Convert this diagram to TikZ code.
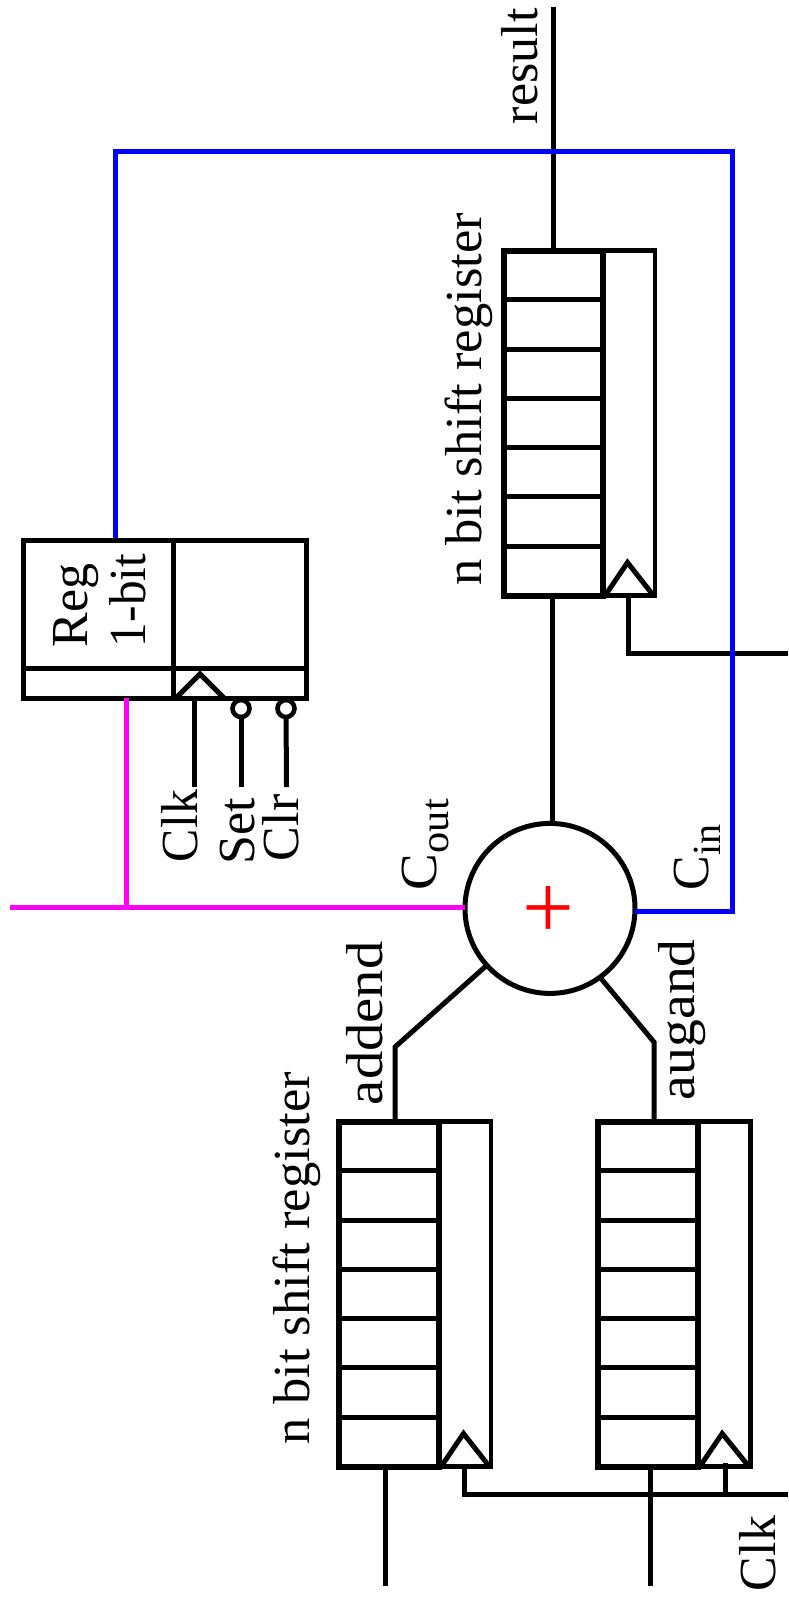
\documentclass[tikz,border=0pt]{standalone}
\usepackage{graphicx}
\usepackage{fontspec}
\setmainfont{Liberation Serif}
\usetikzlibrary{calc}
\definecolor{mag}{RGB}{255,0,255}
\tikzset{
  wire/.style={line width=5pt,draw=black,line join=miter},
  bluewire/.style={line width=5pt,draw=blue,line join=miter},
  magwire/.style={line width=5pt,draw=mag,line join=miter},
  lab/.style={rotate=90,anchor=base west,inner sep=0pt,outer sep=0pt,font=\fontsize{52}{54}\selectfont},
  boxa/.style={draw=black,line width=6pt,inner sep=0pt,outer sep=0pt,anchor=north west},
  boxb/.style={draw=black,line width=4.6pt,inner sep=0pt,outer sep=0pt,anchor=north west},
}
\newcommand{\sublab}[1]{\raisebox{-12pt}{\fontsize{40}{40}\selectfont #1}}
\newcommand{\shiftreg}[5]{% name, xleft, xdiv, xright, ytop (height 345)
  \pgfmathsetmacro{\wa}{#3-#2}\pgfmathsetmacro{\wb}{#4-#3}
  \node[boxb,minimum width=\wb pt,minimum height=345pt] (#1clk) at (#3,#5) {};
  \node[boxa,minimum width=\wa pt,minimum height=345pt] (#1cell) at (#2,#5) {};
  \foreach \i in {1,...,6}{
    \draw[wire] ($(#1cell.north west)!\i/7!(#1cell.south west)$) -- ($(#1cell.north east)!\i/7!(#1cell.south east)$);
  }
  \draw[wire] ($(#1clk.south west)+(2.5,-0.5)$) -- ($(#1clk.south west)+(24.5,-33)$) -- ($(#1clk.south east)+(-2,-0.5)$);
}
\begin{document}
\begin{tikzpicture}[x=1pt,y=-1pt]
\useasboundingbox (0,0) rectangle (788,1604);
% registers
\shiftreg{rt}{503.5}{603}{655}{250.5}
\shiftreg{rl}{338.5}{439}{491}{1121.5}
\shiftreg{rr}{598}{697.7}{750.5}{1121.5}
% 1-bit register
\node[boxb,minimum width=150pt,minimum height=158.5pt,line width=5pt] (regl) at (23,540) {};
\node[boxb,minimum width=133pt,minimum height=158.5pt,line width=5pt] (regr) at (173,540) {};
\coordinate (regsl) at (23,668);
\coordinate (regsr) at (306,668);
\draw[wire] (regsl) -- (regsr);
\coordinate (tria) at (176,698);
\coordinate (trib) at (200,674);
\coordinate (tric) at (224,698);
\draw[wire] (tria) -- (trib) -- (tric);
% adder
\node[circle,draw=black,line width=5pt,fill=white,inner sep=0pt,outer sep=0pt,minimum size=170pt] (adder) at (550,908.4) {};
\node[red,inner sep=0pt,font=\fontsize{92}{92}\selectfont] (plus) at (548.5,912) {+};
% black connectors
\coordinate (res) at (553.5,7);
\draw[wire] (res) -- (res |- rtcell.north);
\coordinate (rtout) at (552,600);
\draw[wire] (rtout |- adder.north) -- (rtout |- rtcell.south);
\coordinate (lbend) at (395,1047);
\coordinate (rbend) at (654,1042);
\draw[wire] (adder.222.5) -- (lbend) -- (lbend |- rlcell.north);
\draw[wire] (adder.-54) -- (rbend) -- (rbend |- rrcell.north);
\coordinate (rtc) at (628.4,595);
\coordinate (rtcr) at (788,653);
\draw[wire] (rtc) |- (rtcr);
\coordinate (rlc) at (464,1466);
\coordinate (rrc) at (725,1463);
\coordinate (clkr) at (788,1494);
\draw[wire] (rlc) |- (clkr);
\draw[wire] (rrc) -- (rrc |- clkr);
\coordinate (ldat) at (385.7,1586);
\coordinate (rdat) at (650,1586);
\draw[wire] (ldat) -- (ldat |- rlcell.south);
\draw[wire] (rdat) -- (rdat |- rrcell.south);
% carry
\coordinate (bc) at (732,911);
\coordinate (bt) at (732,151.5);
\coordinate (bl) at (115,151.5);
\coordinate (br) at (115,538);
\draw[bluewire] (adder.east |- bc) -- (bc) -- (bt) -- (bl) -- (br);
\coordinate (ml) at (10,907);
\coordinate (mj) at (126.7,907);
\coordinate (mt) at (126.7,698);
\draw[magwire] (ml) -- (adder.west |- ml);
\draw[magwire] (mj) -- (mt);
% register inputs
\coordinate (ck) at (194,700);
\coordinate (cke) at (194,787);
\draw[wire] (ck) -- (cke);
\node[circle,draw=black,line width=4.6pt,fill=white,inner sep=0pt,outer sep=0pt,minimum size=17pt] (setb) at (241,708.5) {};
\node[circle,draw=black,line width=4.6pt,fill=white,inner sep=0pt,outer sep=0pt,minimum size=17pt] (clrb) at (286,708.5) {};
\coordinate (sete) at (241,787);
\coordinate (clre) at (286.5,787);
\draw[wire] (setb) -- (sete);
\draw[wire] (clrb) -- (clre);
% labels
\node[lab] (tres) at (537,124) {result};
\node[lab] (tn1) at (481,585) {\scalebox{1.01}[1]{n bit shift register}};
\node[lab] (tn2) at (309,1444) {\scalebox{1.01}[1]{n bit shift register}};
\node[lab] (tadd) at (382,1105) {\scalebox{1.09}[1]{addend}};
\node[lab] (taug) at (694,1100) {\scalebox{1.07}[1]{augand}};
\node[lab] (tcout) at (436,890) {\scalebox{1.06}[1]{C\sublab{out}}};
\node[lab] (tcin) at (708,890) {C\sublab{in}};
\node[lab] (tclkb) at (775,1591) {Clk};
\node[lab] (tclk) at (197,862) {\scalebox{0.96}[1]{Clk}};
\node[lab] (tset) at (254,864) {Set};
\node[lab] (tclr) at (298,861) {Clr};
\node[lab] (treg) at (87,647) {Reg};
\node[lab] (tbit) at (145,647) {\scalebox{0.95}[1]{1-bit}};
\end{tikzpicture}
\end{document}
